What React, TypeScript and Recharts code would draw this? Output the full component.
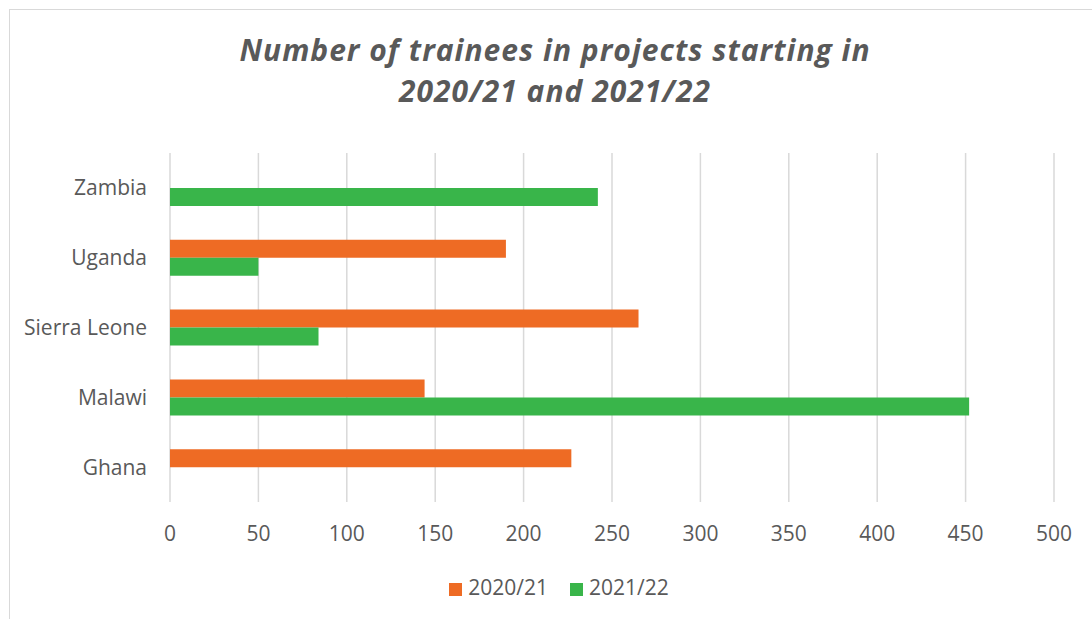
import { BarChart, Bar, XAxis, YAxis, CartesianGrid, Legend } from "recharts";

const countries = ["Zambia", "Uganda", "Sierra Leone", "Malawi", "Ghana"];
const trainees2020 = [null, 190, 265, 144, 227];
const trainees2021 = [242, 50, 84, 452, null];
const xTicks = [0, 50, 100, 150, 200, 250, 300, 350, 400, 450, 500];
const titleLines = ["Number of trainees in projects starting in", "2020/21 and 2021/22"];

const data = countries.map((country, i) => ({
  country,
  y2020: trainees2020[i],
  y2021: trainees2021[i],
}));

const textColor = "#595959";
const font = "'Open Sans', sans-serif";

export default function App() {
  return (
    <div
      style={{
        position: "fixed",
        left: 0,
        top: 0,
        width: 1092,
        height: 619,
        overflow: "hidden",
        background: "#fff",
        fontFamily: font,
      }}
    >
      <div
        style={{
          position: "absolute",
          left: 9,
          top: 9,
          width: 1200,
          height: 700,
          border: "1px solid #d9d9d9",
        }}
      />
      {titleLines.map((line, i) => (
        <div
          key={i}
          style={{
            position: "absolute",
            left: 0,
            top: 29 + i * 41,
            width: 1110,
            height: 41,
            textAlign: "center",
            fontSize: 30,
            lineHeight: "41px",
            letterSpacing: 1,
            fontWeight: 700,
            fontStyle: "italic",
            color: textColor,
            whiteSpace: "nowrap",
          }}
        >
          {line}
        </div>
      ))}
      <BarChart
        width={1092}
        height={619}
        data={data}
        layout="vertical"
        margin={{ top: 153, right: 38, bottom: 10, left: 10 }}
        barGap={0}
        style={{ position: "absolute", left: 0, top: 0 }}
      >
        <CartesianGrid horizontal={false} stroke="#d9d9d9" strokeWidth={1.5} />
        <XAxis
          type="number"
          domain={[0, 500]}
          ticks={xTicks}
          height={77}
          axisLine={false}
          tickLine={false}
          tickSize={0}
          tickMargin={24}
          tick={{ fill: textColor, fontSize: 21, fontFamily: font }}
        />
        <YAxis
          type="category"
          dataKey="country"
          width={160}
          axisLine={false}
          tickLine={false}
          tickSize={0}
          tickMargin={23}
          tick={{ fill: textColor, fontSize: 21, fontFamily: font }}
        />
        <Legend
          verticalAlign="bottom"
          iconType="square"
          iconSize={13}
          wrapperStyle={{ left: 24, width: 1092, height: 30, top: 572, lineHeight: "30px", fontSize: 21, fontFamily: font }}
          formatter={(value) => (
            <span style={{ color: textColor, marginLeft: 2, marginRight: 12 }}>{value}</span>
          )}
        />
        <Bar dataKey="y2020" name="2020/21" fill="#EE6B24" barSize={18} isAnimationActive={false} />
        <Bar dataKey="y2021" name="2021/22" fill="#39B54A" barSize={18} isAnimationActive={false} />
      </BarChart>
    </div>
  );
}
